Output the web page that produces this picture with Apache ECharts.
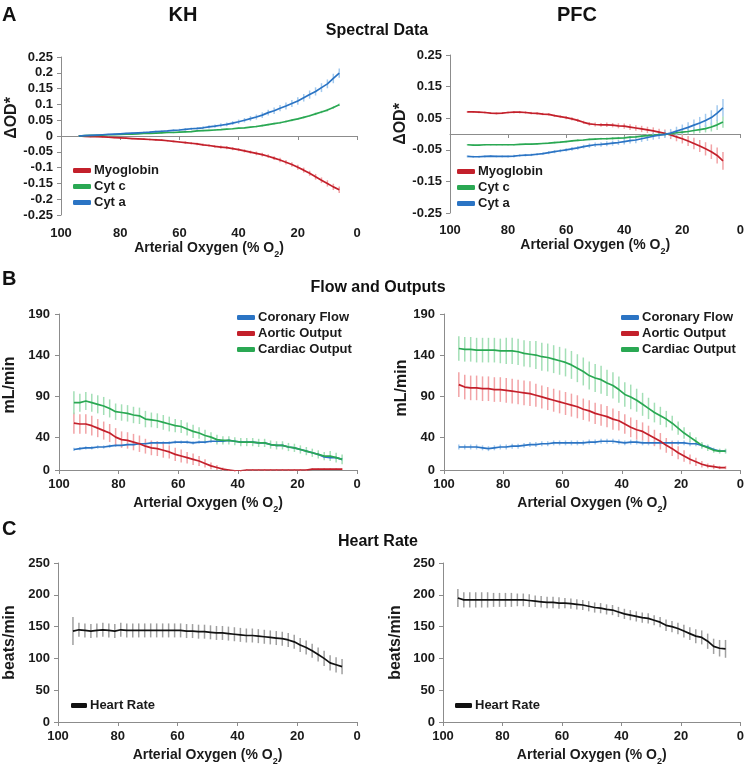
<!DOCTYPE html>
<html><head><meta charset="utf-8">
<script src="https://cdn.jsdelivr.net/npm/echarts@6/dist/echarts.min.js"></script>
<style>html,body{margin:0;padding:0;background:#fff}#c{width:747px;height:767px}</style>
</head><body><div id="c"></div>
<script>
// ---------- DATA ----------
const xA = [94,92,90,88,86,84,82,80,78,76,74,72,70,68,66,64,62,60,58,56,54,52,50,48,46,44,42,40,38,36,34,32,30,28,26,24,22,20,18,16,14,12,10,8,6];
const xB = [95,93,91,89,87,85,83,81,79,77,75,73,71,69,67,65,63,61,59,57,55,53,51,49,47,45,43,41,39,37,35,33,31,29,27,25,23,21,19,17,15,13,11,9,7,5];

// Spectral data, KH
const khMyo = [0.000,-0.001,-0.002,-0.002,-0.003,-0.004,-0.005,-0.006,-0.007,-0.008,-0.009,-0.010,-0.011,-0.012,-0.013,-0.015,-0.017,-0.019,-0.021,-0.023,-0.025,-0.028,-0.030,-0.033,-0.035,-0.037,-0.040,-0.043,-0.047,-0.051,-0.055,-0.059,-0.064,-0.070,-0.076,-0.083,-0.090,-0.099,-0.108,-0.118,-0.129,-0.140,-0.150,-0.161,-0.170];
const khMyoErr = [0.001,0.001,0.002,0.002,0.002,0.002,0.002,0.002,0.002,0.002,0.002,0.003,0.003,0.003,0.003,0.003,0.003,0.003,0.004,0.004,0.004,0.004,0.004,0.004,0.005,0.005,0.005,0.005,0.005,0.005,0.006,0.006,0.006,0.006,0.007,0.007,0.007,0.008,0.008,0.008,0.009,0.009,0.010,0.010,0.010];
const khCytc = [0.000,0.001,0.002,0.002,0.003,0.004,0.004,0.005,0.006,0.006,0.007,0.008,0.008,0.009,0.010,0.011,0.011,0.012,0.013,0.014,0.016,0.017,0.018,0.019,0.020,0.022,0.023,0.025,0.026,0.028,0.030,0.033,0.036,0.039,0.042,0.046,0.050,0.054,0.059,0.064,0.070,0.076,0.082,0.090,0.099];
const khCytcErr = [0.001,0.001,0.001,0.001,0.001,0.001,0.001,0.001,0.001,0.001,0.001,0.002,0.002,0.002,0.002,0.002,0.002,0.002,0.002,0.002,0.002,0.002,0.002,0.002,0.002,0.002,0.002,0.002,0.002,0.002,0.003,0.003,0.003,0.003,0.003,0.003,0.003,0.003,0.003,0.003,0.004,0.004,0.004,0.004,0.004];
const khCyta = [0.000,0.001,0.002,0.003,0.004,0.005,0.006,0.007,0.008,0.009,0.010,0.011,0.012,0.014,0.015,0.016,0.018,0.019,0.021,0.023,0.024,0.026,0.029,0.031,0.034,0.037,0.041,0.045,0.050,0.055,0.060,0.066,0.074,0.080,0.088,0.095,0.103,0.111,0.121,0.131,0.141,0.153,0.165,0.182,0.199];
const khCytaErr = [0.001,0.001,0.001,0.002,0.002,0.002,0.002,0.002,0.002,0.002,0.002,0.003,0.003,0.003,0.003,0.003,0.003,0.004,0.004,0.004,0.004,0.005,0.005,0.005,0.006,0.006,0.006,0.007,0.007,0.008,0.008,0.009,0.009,0.010,0.010,0.011,0.011,0.012,0.012,0.013,0.013,0.014,0.014,0.015,0.015];

// Spectral data, PFC
const pfcMyo = [0.070,0.070,0.069,0.068,0.066,0.065,0.066,0.068,0.069,0.069,0.068,0.066,0.065,0.063,0.062,0.058,0.055,0.052,0.048,0.043,0.037,0.032,0.030,0.029,0.029,0.028,0.026,0.025,0.022,0.019,0.016,0.013,0.010,0.006,0.002,-0.003,-0.009,-0.015,-0.022,-0.030,-0.038,-0.047,-0.056,-0.068,-0.085];
const pfcMyoErr = [0.003,0.003,0.003,0.003,0.003,0.003,0.003,0.003,0.004,0.004,0.004,0.004,0.004,0.004,0.004,0.004,0.004,0.005,0.005,0.005,0.005,0.006,0.006,0.006,0.007,0.007,0.008,0.008,0.009,0.009,0.010,0.010,0.011,0.011,0.012,0.013,0.014,0.015,0.016,0.018,0.019,0.021,0.023,0.025,0.028];
const pfcCytc = [-0.034,-0.035,-0.035,-0.034,-0.034,-0.034,-0.034,-0.034,-0.034,-0.033,-0.032,-0.032,-0.031,-0.030,-0.029,-0.027,-0.026,-0.024,-0.022,-0.020,-0.019,-0.017,-0.016,-0.015,-0.015,-0.014,-0.013,-0.012,-0.010,-0.009,-0.007,-0.005,-0.004,-0.002,-0.001,0.001,0.004,0.006,0.008,0.011,0.014,0.017,0.022,0.029,0.038];
const pfcCytcErr = [0.002,0.002,0.002,0.002,0.002,0.002,0.002,0.002,0.002,0.002,0.002,0.002,0.002,0.002,0.002,0.003,0.003,0.003,0.003,0.003,0.003,0.003,0.003,0.003,0.004,0.004,0.004,0.004,0.004,0.004,0.005,0.005,0.005,0.005,0.006,0.006,0.007,0.008,0.009,0.010,0.011,0.012,0.014,0.016,0.018];
const pfcCyta = [-0.071,-0.072,-0.072,-0.071,-0.070,-0.071,-0.071,-0.071,-0.070,-0.068,-0.067,-0.066,-0.064,-0.062,-0.059,-0.056,-0.053,-0.050,-0.047,-0.044,-0.040,-0.037,-0.034,-0.033,-0.031,-0.029,-0.027,-0.024,-0.021,-0.019,-0.015,-0.011,-0.007,-0.004,-0.001,0.003,0.009,0.015,0.021,0.028,0.035,0.043,0.052,0.066,0.083];
const pfcCytaErr = [0.003,0.003,0.003,0.003,0.003,0.003,0.003,0.003,0.004,0.004,0.004,0.004,0.004,0.004,0.005,0.005,0.005,0.005,0.006,0.006,0.006,0.007,0.007,0.007,0.008,0.008,0.008,0.009,0.009,0.010,0.010,0.011,0.011,0.012,0.012,0.013,0.014,0.015,0.016,0.018,0.019,0.021,0.023,0.025,0.028];

// Flow and outputs, KH
const khCor = [25,26,27,27,28,28,29,30,30,31,31,32,32,33,33,33,33,34,34,34,33,34,34,35,35,35,36,35,34,34,34,33,33,31,30,30,28,27,25,23,21,19,16,15,15,13];
const khCorErr = [2,2,2,2,2,2,2,2,2,2,2,2,2,2,2,2,2,2,2,2,2,2,2,2,2,2,2,2,2,2,2,2,2,2,2,2,2,2,2,2,2,2,2,2,2,2];
const khAor = [57,56,56,54,51,48,45,40,37,36,34,32,29,27,26,24,22,19,17,15,13,11,8,5,3,1,0,-1,-1,0,0,0,0,0,0,0,0,0,0,0,1,1,1,1,1,1];
const khAorErr = [13,12,12,12,11,11,11,11,10,10,10,10,9,9,9,9,8,8,8,7,7,6,5,4,3,2,1,1,1,1,1,1,1,1,1,1,1,1,1,1,1,1,1,1,1,1];
const khCard = [82,82,84,82,80,78,75,71,70,69,67,66,62,61,60,58,56,54,53,50,47,45,42,40,37,36,36,35,34,34,34,33,33,31,30,30,28,27,25,23,21,19,17,17,15,13];
const khCardErr = [14,11,11,11,11,11,11,10,10,10,10,10,10,9,9,9,9,8,8,8,8,7,7,6,6,5,5,5,5,5,5,5,5,5,5,5,5,5,5,5,5,5,5,6,6,6];

// Flow and outputs, PFC
const pfcCor = [28,28,28,28,27,26,27,28,28,29,29,30,31,31,32,32,33,33,33,33,33,33,34,34,35,35,35,34,33,34,34,33,33,33,33,33,33,33,33,32,32,30,28,25,23,23];
const pfcCorErr = [3,3,3,3,3,3,3,3,3,3,3,3,3,3,3,3,3,3,3,3,3,3,3,3,3,3,3,3,3,3,3,3,3,3,3,3,3,3,3,3,3,3,2,2,2,2];
const pfcAor = [104,101,100,100,99,99,98,98,97,96,95,94,93,91,89,87,85,83,81,79,77,74,72,69,67,65,62,60,56,52,49,47,43,39,35,30,26,21,17,13,10,7,5,4,3,3];
const pfcAorErr = [15,15,15,15,15,15,15,15,15,15,15,15,15,14,14,14,14,14,14,14,14,13,13,13,13,13,13,12,12,12,12,11,11,10,10,9,9,8,7,6,5,4,3,3,2,2];
const pfcCard = [148,147,147,146,146,146,146,145,145,145,144,142,141,140,138,137,135,133,131,128,124,120,115,112,110,106,103,98,92,89,85,80,75,70,66,62,57,51,45,40,35,30,27,24,23,23];
const pfcCardErr = [15,15,15,15,15,15,15,15,16,16,16,16,16,17,17,17,17,17,17,17,17,17,17,17,17,16,16,16,15,15,14,14,13,12,11,10,9,8,7,6,5,4,4,3,3,3];

// Heart rate
const khHR = [143,145,144,143,144,145,144,143,145,144,144,144,144,144,144,144,144,144,144,143,143,142,142,141,140,140,139,138,137,136,136,135,134,133,132,131,129,126,121,117,112,106,100,93,90,87];
const khHRErr = [22,11,11,11,11,11,11,11,11,11,11,11,11,11,11,11,11,11,11,11,11,11,11,11,11,11,11,11,11,11,11,11,11,11,11,11,11,11,11,11,11,11,12,12,12,12];
const pfcHR = [195,192,192,192,192,192,192,192,192,192,192,192,191,190,189,188,188,187,187,186,185,184,182,180,179,177,176,173,170,168,166,164,163,160,157,152,150,147,143,139,135,133,127,119,116,115];
const pfcHRErr = [14,12,12,12,12,12,11,11,11,11,10,10,10,9,9,9,9,9,8,8,8,8,8,8,8,8,8,8,8,8,8,8,8,8,8,9,9,9,10,10,11,11,12,12,13,14];

const flowTicks = [0,40,90,140,190];

// ---------- STYLE ----------
const FONT = '"Liberation Sans", Arial, sans-serif';
const AX = '#8c8c8c';
const RED = '#c3202b', RED_E = '#f2a3a6';
const GRN = '#2aa853', GRN_E = '#a3dfb6';
const BLU = '#2b74c4', BLU_E = '#a4caee';
const BLK = '#111111', BLK_E = '#a0a0a0';

const grids = [
  {left:61, top:57, width:296, height:158},
  {left:450, top:55, width:292, height:158},
  {left:59, top:314, width:298, height:156},
  {left:444, top:314, width:298, height:156},
  {left:58, top:563, width:299, height:159},
  {left:443, top:563, width:299, height:159}
];

const xName = '{a|Arterial Oxygen (% O}{s|2}{a|)}';
const xNameStyle = {
  rich: {
    a: {fontFamily: FONT, fontWeight: 'bold', fontSize: 14, lineHeight: 16, color: '#1a1a1a'},
    s: {fontFamily: FONT, fontWeight: 'bold', fontSize: 9, lineHeight: 9, verticalAlign: 'bottom', color: '#1a1a1a', padding: [0,0,-3,0]}
  }
};
const labelStyle = {fontFamily: FONT, fontWeight: 'bold', fontSize: 13, color: '#1a1a1a'};

function xAxisFull(gi, margin, gap) {
  return {type:'value', gridIndex:gi, min:0, max:100, interval:20, inverse:true, position:'bottom',
    splitLine:{show:false},
    axisLine:{show:true, onZero:false, lineStyle:{color:AX, width:1}},
    axisTick:{show:true, length:4, lineStyle:{color:AX}},
    axisLabel:Object.assign({margin:margin}, labelStyle),
    name:xName, nameLocation:'middle', nameGap:gap, nameTextStyle:xNameStyle};
}
function xAxisZeroLine(gi) {
  return {type:'value', gridIndex:gi, min:0, max:100, interval:20, inverse:true, position:'bottom',
    splitLine:{show:false},
    axisLine:{show:true, onZero:true, lineStyle:{color:AX, width:1}},
    axisTick:{show:true, length:4, lineStyle:{color:AX}},
    axisLabel:{show:false}};
}
function xAxisLabelsOnly(gi, margin, gap) {
  return {type:'value', gridIndex:gi, min:0, max:100, interval:20, inverse:true, position:'bottom',
    splitLine:{show:false},
    axisLine:{show:false, onZero:false},
    axisTick:{show:false},
    axisLabel:Object.assign({margin:margin}, labelStyle),
    name:xName, nameLocation:'middle', nameGap:gap, nameTextStyle:xNameStyle};
}
function yAxis(gi, opts, name, gap, shift) {
  return Object.assign({type:'value', gridIndex:gi, position:'left',
    splitLine:{show:false},
    axisLine:{show:true, onZero:false, lineStyle:{color:AX, width:1}},
    axisTick:{show:true, length:4, lineStyle:{color:AX}},
    axisLabel:Object.assign({margin:8}, labelStyle),
    name:name, nameLocation:'middle', nameGap:gap,
    nameTextStyle:{fontFamily:FONT, fontWeight:'bold', fontSize:16, color:'#1a1a1a', padding:[0,0,0,shift]}
  }, opts);
}

const xAxes = [
  xAxisZeroLine(0), xAxisLabelsOnly(0, 12, 25),
  xAxisZeroLine(1), xAxisLabelsOnly(1, 11, 22),
  xAxisFull(2, 8, 25), xAxisFull(3, 8, 25),
  xAxisFull(4, 8, 25), xAxisFull(5, 8, 25)
];
const yAxes = [
  yAxis(0, {min:-0.25, max:0.25, interval:0.05}, 'ΔOD*', 41, 36),
  yAxis(1, {min:-0.25, max:0.25, interval:0.1}, 'ΔOD*', 38, 20),
  yAxis(2, {min:0, max:190, axisLabel:Object.assign({margin:9, customValues:flowTicks}, labelStyle), axisTick:{show:true, length:4, lineStyle:{color:AX}, customValues:flowTicks}}, 'mL/min', 41, 14),
  yAxis(3, {min:0, max:190, axisLabel:Object.assign({margin:9, customValues:flowTicks}, labelStyle), axisTick:{show:true, length:4, lineStyle:{color:AX}, customValues:flowTicks}}, 'mL/min', 32, 8),
  yAxis(4, {min:0, max:250, interval:50}, 'beats/min', 40, 0),
  yAxis(5, {min:0, max:250, interval:50}, 'beats/min', 39, 0)
];

const series = [];
function add(name, xs, vals, errs, color, errColor, xi, yi) {
  series.push({
    type:'custom', xAxisIndex:xi, yAxisIndex:yi, silent:true, z:1,
    data: xs.map((x, i) => [x, vals[i] - errs[i], vals[i] + errs[i]]),
    encode:{x:0, y:[1,2]},
    renderItem: function (params, api) {
      const lo = api.coord([api.value(0), api.value(1)]);
      const hi = api.coord([api.value(0), api.value(2)]);
      return {type:'line', shape:{x1:lo[0], y1:lo[1], x2:hi[0], y2:hi[1]},
        style:{stroke:errColor, lineWidth:1.5}};
    }
  });
  series.push({
    type:'line', name:name, xAxisIndex:xi, yAxisIndex:yi, z:3,
    data: xs.map((x, i) => [x, vals[i]]),
    showSymbol:false, symbol:'none',
    lineStyle:{color:color, width:1.7}, itemStyle:{color:color}
  });
}
// A
add('Myoglobin', xA, khMyo, khMyoErr, RED, RED_E, 0, 0);
add('Cyt c', xA, khCytc, khCytcErr, GRN, GRN_E, 0, 0);
add('Cyt a', xA, khCyta, khCytaErr, BLU, BLU_E, 0, 0);
add('Myoglobin', xA, pfcMyo, pfcMyoErr, RED, RED_E, 2, 1);
add('Cyt c', xA, pfcCytc, pfcCytcErr, GRN, GRN_E, 2, 1);
add('Cyt a', xA, pfcCyta, pfcCytaErr, BLU, BLU_E, 2, 1);
// B
add('Coronary Flow', xB, khCor, khCorErr, BLU, BLU_E, 4, 2);
add('Aortic Output', xB, khAor, khAorErr, RED, RED_E, 4, 2);
add('Cardiac Output', xB, khCard, khCardErr, GRN, GRN_E, 4, 2);
add('Coronary Flow', xB, pfcCor, pfcCorErr, BLU, BLU_E, 5, 3);
add('Aortic Output', xB, pfcAor, pfcAorErr, RED, RED_E, 5, 3);
add('Cardiac Output', xB, pfcCard, pfcCardErr, GRN, GRN_E, 5, 3);
// C
add('Heart Rate', xB, khHR, khHRErr, BLK, BLK_E, 6, 4);
add('Heart Rate', xB, pfcHR, pfcHRErr, BLK, BLK_E, 7, 5);

function legend(left, top, names, w) {
  return {left:left, top:top, orient:'vertical', padding:0, itemGap:3,
    itemWidth:w || 18, itemHeight:5, icon:'roundRect', selectedMode:false,
    textStyle:{fontFamily:FONT, fontWeight:'bold', fontSize:13, color:'#1a1a1a', padding:[0,0,0,-2]},
    data:names};
}
const legends = [
  legend(73, 164, ['Myoglobin','Cyt c','Cyt a']),
  legend(457, 165, ['Myoglobin','Cyt c','Cyt a']),
  legend(237, 311, ['Coronary Flow','Aortic Output','Cardiac Output']),
  legend(621, 311, ['Coronary Flow','Aortic Output','Cardiac Output']),
  legend(71, 699, ['Heart Rate'], 16),
  legend(455, 699, ['Heart Rate'], 17)
];

function txt(x, y, s, size, align) {
  return {type:'text', x:x, y:y, silent:true,
    style:{text:s, fontFamily:FONT, fontWeight:'bold', fontSize:size, fill:'#111',
      textAlign:align, align:align, textVerticalAlign:'middle', verticalAlign:'middle'}};
}
const graphics = [
  txt(2, 15, 'A', 20, 'left'),
  txt(183, 15, 'KH', 20, 'center'),
  txt(577, 15, 'PFC', 20, 'center'),
  txt(377, 31, 'Spectral Data', 16, 'center'),
  txt(2, 279, 'B', 20, 'left'),
  txt(378, 288, 'Flow and Outputs', 16, 'center'),
  txt(2, 529, 'C', 20, 'left'),
  txt(378, 542, 'Heart Rate', 16, 'center')
];

const chart = echarts.init(document.getElementById('c'), null, {renderer:'canvas'});
chart.setOption({
  animation:false,
  backgroundColor:'#ffffff',
  textStyle:{fontFamily:FONT},
  grid: grids.map(g => Object.assign({containLabel:false}, g)),
  xAxis: xAxes,
  yAxis: yAxes,
  legend: legends,
  graphic: graphics,
  series: series
});
</script>
</body></html>
